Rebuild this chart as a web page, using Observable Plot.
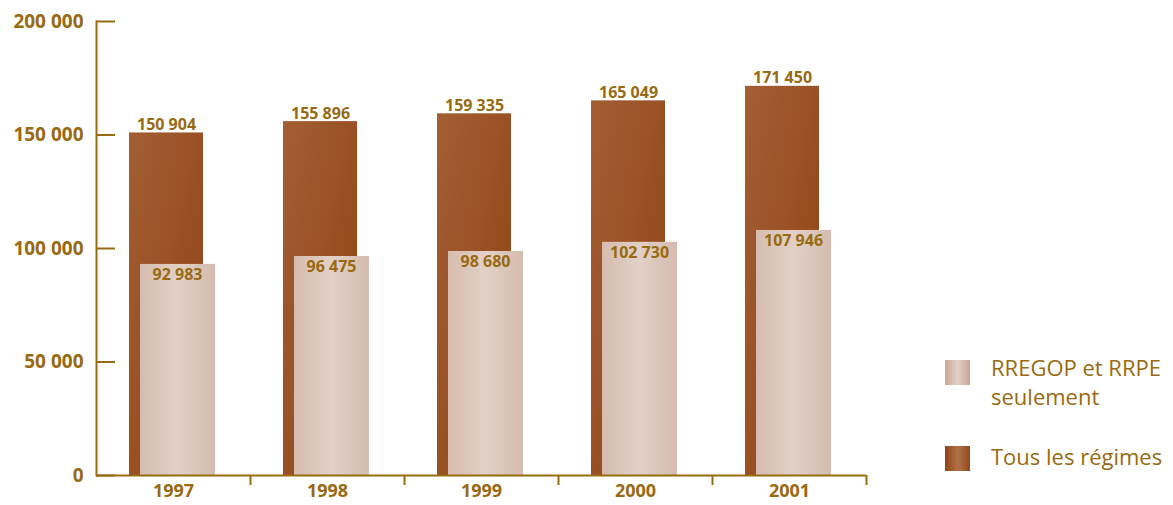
<!DOCTYPE html>
<html>
<head>
<meta charset="utf-8">
<script src="https://cdn.jsdelivr.net/npm/d3@7"></script>
<script src="https://cdn.jsdelivr.net/npm/@observablehq/plot@0.6"></script>
<style>
  html, body { margin: 0; padding: 0; background: #fff; }
  #wrap { position: relative; width: 1173px; height: 505px; font-family: "Open Sans", sans-serif; }
  .legend { position: absolute; left: 945px; color: #986a12; font-size: 22px; line-height: 29px; }
  .sw { position: absolute; width: 25px; height: 25px; }
  .lab { position: absolute; left: 46px; white-space: nowrap; }
</style>
</head>
<body>
<div id="wrap">
  <div id="chart"></div>
  <div class="legend" style="top:358px">
    <div class="sw" style="top:2px;background:linear-gradient(90deg,#c9a898,#e2cfc5 50%,#c7a493)"></div>
    <div class="lab" style="top:-5px">RREGOP et RRPE<br>seulement</div>
  </div>
  <div class="legend" style="top:446px">
    <div class="sw" style="top:0px;background:linear-gradient(90deg,#8f4512,#b0714a 50%,#93491a)"></div>
    <div class="lab" style="top:-4px">Tous les régimes</div>
  </div>
</div>
<script>
const years = ["1997", "1998", "1999", "2000", "2001"];
const tousLesRegimes = [150904, 155896, 159335, 165049, 171450];
const rregopRrpe = [92983, 96475, 98680, 102730, 107946];
const yTicks = [0, 50000, 100000, 150000, 200000];

const gold = "#986a12";
const fmt = v => d3.format(",")(v).replace(/,/g, " ");

const dataTous = years.map((y, i) => ({year: y, value: tousLesRegimes[i]}));
const dataRR = years.map((y, i) => ({year: y, value: rregopRrpe[i]}));

const plot = Plot.plot({
  width: 1173,
  height: 505,
  marginLeft: 96,
  marginRight: 307,
  marginTop: 21,
  marginBottom: 30,
  style: {fontFamily: "Open Sans, sans-serif", background: "transparent", overflow: "visible"},
  x: {domain: years, padding: 0, label: null},
  y: {domain: [0, 200000], label: null},
  marks: [
    Plot.barY(dataTous, {x: "year", y: "value", fill: "url(#gDark)", insetLeft: 33, insetRight: 47}),
    Plot.barY(dataRR, {x: "year", y: "value", fill: "url(#gLight)", insetLeft: 44, insetRight: 35}),
    Plot.text(dataTous, {x: "year", y: "value", text: d => fmt(d.value), dx: -7, dy: -3, lineAnchor: "bottom", fill: gold, fontSize: 16, fontWeight: "bold"}),
    Plot.text(dataRR, {x: "year", y: "value", text: d => fmt(d.value), dx: 4, dy: 4, lineAnchor: "top", fill: gold, fontSize: 16, fontWeight: "bold"}),
    Plot.axisY({ticks: yTicks, tickSize: -19, tickFormat: () => "", stroke: gold, strokeWidth: 2, strokeOpacity: 1}),
    Plot.axisY({ticks: yTicks, tickSize: 0, tickPadding: 13, tickFormat: fmt, fill: gold, fontSize: 19, fontWeight: "bold"}),
    Plot.ruleX(years, {x: d => d, dx: 77, y1: 0, y2: -4400, stroke: gold, strokeWidth: 2}),
    Plot.axisX({tickSize: 0, tickPadding: 9, fill: gold, fontSize: 18, fontWeight: "bold"}),
    Plot.ruleY([0], {stroke: gold, strokeWidth: 2}),
    Plot.frame({anchor: "left", stroke: gold, strokeWidth: 2})
  ]
});

const svg = d3.select(plot);
const defs = svg.insert("defs", ":first-child");
const gd = defs.append("linearGradient").attr("id", "gDark").attr("x1", 0).attr("y1", 0).attr("x2", 1).attr("y2", 1);
gd.append("stop").attr("offset", "0%").attr("stop-color", "#a35e33");
gd.append("stop").attr("offset", "45%").attr("stop-color", "#9a5226");
gd.append("stop").attr("offset", "100%").attr("stop-color", "#8c4410");
const gl = defs.append("linearGradient").attr("id", "gLight").attr("x1", 0).attr("y1", 0).attr("x2", 1).attr("y2", 0);
gl.append("stop").attr("offset", "0%").attr("stop-color", "#d6bcae");
gl.append("stop").attr("offset", "50%").attr("stop-color", "#e2d0c7");
gl.append("stop").attr("offset", "100%").attr("stop-color", "#d4bcae");

document.getElementById("chart").appendChild(plot);
</script>
</body>
</html>
